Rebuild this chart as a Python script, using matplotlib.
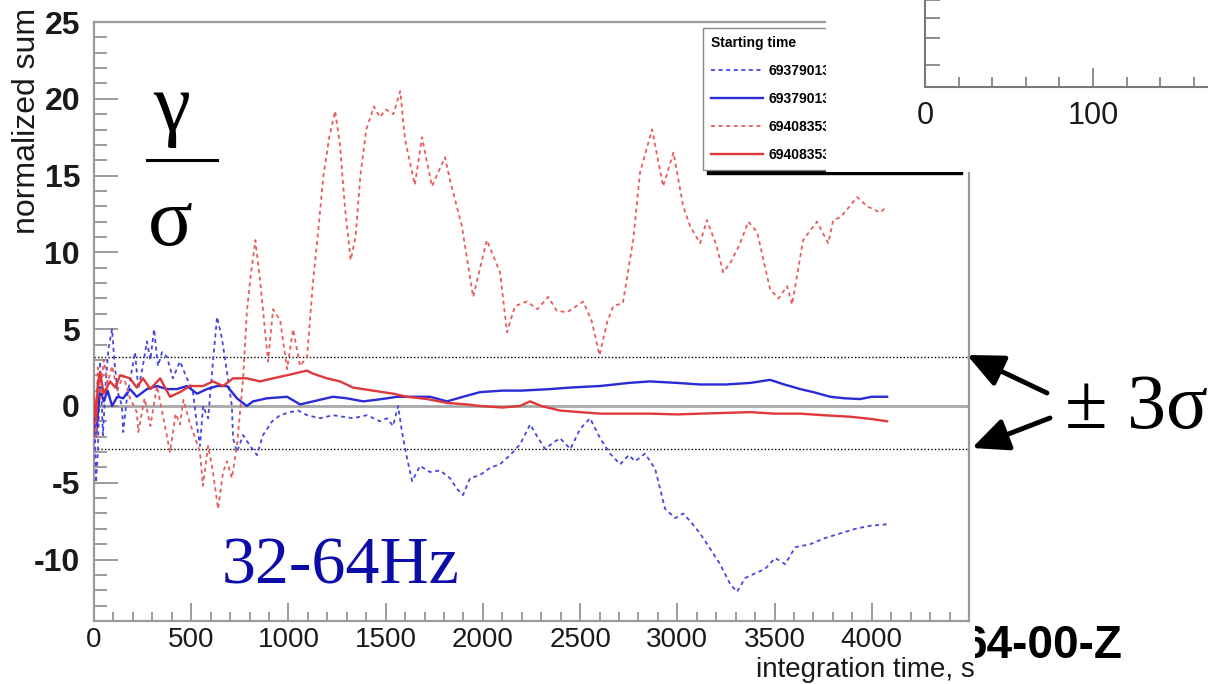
import numpy as np
import matplotlib
matplotlib.use("Agg")
import matplotlib.pyplot as plt
from matplotlib.patches import Rectangle
from matplotlib.lines import Line2D
from matplotlib.ticker import MultipleLocator
from matplotlib.transforms import Bbox

plt.rcParams['font.family'] = ['Liberation Sans', 'DejaVu Sans']
plt.rcParams['axes.unicode_minus'] = False

# ---- data: normalized sums vs integration time ----
t_red_dot = [0, 10, 20, 35, 50, 70, 93, 120, 150, 185, 220, 228, 260, 290, 324, 357, 391, 420,
             442, 460, 490, 510, 545, 560, 587, 612, 638, 664, 684, 709, 735, 767, 786, 803,
             830, 854, 895, 921, 957, 993, 1024, 1060, 1096, 1127, 1150, 1180, 1210, 1240,
             1265, 1290, 1320, 1345, 1370, 1400, 1440, 1470, 1500, 1540, 1575, 1600, 1650,
             1687, 1738, 1805, 1831, 1892, 1950, 2020, 2088, 2124, 2165, 2227, 2280, 2336,
             2380, 2433, 2516, 2560, 2600, 2640, 2670, 2720, 2773, 2808, 2870, 2927, 2980,
             3030, 3066, 3117, 3152, 3200, 3236, 3272, 3320, 3365, 3411, 3477, 3520, 3565,
             3590, 3647, 3718, 3776, 3802, 3840, 3873, 3925, 3976, 4043, 4079]
y_red_dot = [1.0, -2.0, 2.5, 0.5, 3.0, 1.5, 2.6, 1.0, 2.0, 0.5, -0.4, -1.7, 0.5, -1.3, 1.3, -0.8,
             -3.0, -0.5, -1.2, 0.4, -1.0, -1.7, -3.0, -5.2, -2.6, -4.3, -6.7, -4.3, -3.6, -4.7,
             -2.6, 1.8, 6.1, 8.2, 10.8, 8.2, 2.9, 6.3, 5.6, 2.4, 5.0, 2.6, 3.2, 8.2, 11.0, 15.0,
             17.5, 19.2, 17.0, 13.0, 9.5, 11.0, 15.0, 18.0, 19.5, 18.8, 19.3, 19.0, 20.5, 17.3,
             14.4, 17.5, 14.3, 16.2, 14.7, 11.7, 7.1, 10.8, 8.7, 4.8, 6.5, 6.8, 6.3, 7.1, 6.2,
             6.1, 6.8, 5.5, 3.3, 5.5, 6.5, 6.7, 10.8, 15.2, 18.0, 14.3, 16.5, 13.0, 11.7, 10.6,
             12.1, 10.5, 8.7, 9.3, 10.5, 12.0, 11.3, 7.6, 7.0, 7.8, 6.6, 10.8, 12.0, 10.6, 12.1,
             12.3, 12.8, 13.6, 13.0, 12.6, 13.0]

t_blue_dot = [0, 5, 10, 20, 31, 46, 60, 75, 93, 105, 120, 144, 150, 170, 190, 211, 228, 250,
              272, 290, 309, 329, 350, 375, 406, 442, 478, 509, 530, 545, 561, 587, 612, 633,
              658, 684, 709, 715, 735, 767, 803, 838, 869, 916, 957, 1008, 1050, 1096, 1163,
              1229, 1280, 1332, 1404, 1471, 1507, 1538, 1564, 1584, 1610, 1636, 1677, 1728,
              1780, 1831, 1867, 1898, 1934, 1985, 2040, 2088, 2140, 2191, 2243, 2280, 2320,
              2360, 2397, 2450, 2500, 2551, 2603, 2654, 2706, 2750, 2783, 2834, 2886, 2937,
              2989, 3030, 3066, 3117, 3169, 3220, 3272, 3307, 3349, 3400, 3452, 3503, 3555,
              3606, 3683, 3760, 3837, 3915, 3992, 4079]
y_blue_dot = [0.3, -1.7, -5.0, -3.0, 2.9, -1.9, 1.5, 3.8, 5.0, 2.9, 1.0, 0.0, -1.7, 0.6, 2.0,
              3.5, 1.1, 2.5, 4.2, 3.0, 5.0, 2.6, 3.5, 3.2, 1.8, 2.9, 1.8, 0.9, -1.3, -2.6, 0.0,
              -0.8, 2.9, 5.8, 4.4, 2.2, 0.0, -2.1, -3.0, -1.9, -2.6, -3.2, -1.9, -1.0, -0.6,
              -0.4, -0.3, -0.6, -0.8, -0.6, -0.7, -0.8, -0.6, -1.0, -0.8, -1.3, 0.0, -1.7,
              -3.4, -4.9, -3.9, -4.3, -4.2, -4.7, -5.4, -5.8, -4.7, -4.5, -4.0, -3.8, -3.2,
              -2.5, -1.2, -2.0, -2.8, -2.4, -2.1, -2.8, -1.5, -0.8, -2.1, -3.1, -3.8, -3.2,
              -3.6, -3.1, -4.1, -6.7, -7.3, -7.0, -7.5, -8.3, -9.3, -10.3, -11.6, -12.1, -11.2,
              -10.9, -10.6, -9.9, -10.3, -9.2, -9.0, -8.6, -8.3, -8.0, -7.8, -7.7]

t_blue_sol = [0, 10, 20, 31, 50, 70, 93, 120, 150, 185, 220, 272, 324, 375, 427, 478, 530,
              581, 633, 684, 735, 786, 818, 890, 993, 1060, 1127, 1229, 1300, 1384, 1450,
              1507, 1559, 1641, 1728, 1816, 1898, 1985, 2100, 2200, 2346, 2450, 2603, 2750,
              2860, 3000, 3117, 3250, 3374, 3477, 3550, 3632, 3700, 3786, 3860, 3940, 4000, 4079]
y_blue_sol = [0.1, -2.0, -0.5, 1.1, 0.3, 1.0, 0.0, 0.6, 0.5, 1.1, 0.6, 1.1, 1.3, 1.1, 1.1, 1.3,
              0.8, 1.1, 1.3, 1.3, 0.5, 0.0, 0.3, 0.5, 0.6, 0.1, 0.3, 0.6, 0.5, 0.3, 0.4, 0.5,
              0.6, 0.6, 0.6, 0.3, 0.6, 0.9, 1.0, 1.0, 1.1, 1.2, 1.3, 1.5, 1.6, 1.5, 1.4, 1.4,
              1.5, 1.7, 1.4, 1.1, 0.9, 0.6, 0.5, 0.45, 0.6, 0.6]

t_red_sol = [0, 10, 20, 31, 50, 82, 110, 134, 185, 220, 252, 290, 340, 391, 442, 494, 561, 612,
             664, 715, 786, 854, 921, 993, 1060, 1096, 1127, 1198, 1265, 1332, 1435, 1538,
             1610, 1713, 1816, 1919, 1985, 2100, 2191, 2243, 2300, 2397, 2500, 2603, 2700,
             2860, 3000, 3117, 3250, 3374, 3500, 3632, 3750, 3889, 4000, 4079]
y_red_sol = [0.6, -0.9, 1.5, 2.2, 0.8, 1.6, 1.2, 2.0, 1.8, 1.2, 1.8, 1.1, 1.8, 0.6, 0.9, 1.3,
             1.3, 1.6, 1.3, 1.8, 1.8, 1.6, 1.8, 2.0, 2.2, 2.3, 2.1, 1.8, 1.6, 1.2, 1.0, 0.8,
             0.6, 0.45, 0.2, 0.1, 0.0, -0.1, 0.0, 0.3, 0.0, -0.3, -0.4, -0.5, -0.5, -0.5,
             -0.55, -0.5, -0.45, -0.4, -0.5, -0.5, -0.6, -0.7, -0.85, -1.0]

legend_labels = ["693790130", "693790130", "694083530", "694083530"]
sigma_band = [3.2, -2.8]

x_ticks = [0, 500, 1000, 1500, 2000, 2500, 3000, 3500, 4000]
y_ticks = [-10, -5, 0, 5, 10, 15, 20, 25]
inset_xticks = [0, 100]
inset_yticks = [22, 49, 69, 87]

W, H = 1208, 684
fig = plt.figure(figsize=(W / 100, H / 100), dpi=100)
fig.patch.set_facecolor('white')

ax = fig.add_axes([94 / W, 1 - 621 / H, 875 / W, 599 / H])
ax.set_xlim(0, 4500)
ax.set_ylim(-14, 25)

frame = '#9a9a9a'
for s in ax.spines.values():
    s.set_color(frame)
    s.set_linewidth(1.6)

ax.axhline(0, color='#a8a8a8', lw=2.0, zorder=1)
for lvl in sigma_band:
    ax.axhline(lvl, color='black', lw=1.0, ls=(0, (1, 1.5)), zorder=1)

dot = (0, (2.2, 2.0))
l_bd, = ax.plot(t_blue_dot, y_blue_dot, color='#4646e0', lw=1.3, ls=dot, zorder=3)
l_bs, = ax.plot(t_blue_sol, y_blue_sol, color='#2a2ad6', lw=1.7, zorder=3)
l_rd, = ax.plot(t_red_dot, y_red_dot, color='#e85c5c', lw=1.3, ls=dot, zorder=3)
l_rs, = ax.plot(t_red_sol, y_red_sol, color='#e03838', lw=1.7, zorder=3)

ax.set_xticks(x_ticks, labels=[str(v) for v in x_ticks], fontsize=20)
ax.xaxis.set_minor_locator(MultipleLocator(100))
ax.set_yticks(y_ticks, labels=[str(v) for v in y_ticks], fontsize=23, fontweight='bold')
ax.yaxis.set_minor_locator(MultipleLocator(1))
ax.tick_params(axis='both', which='both', direction='in', color='#8a8a8a', width=1.2,
               labelcolor='#1a1a1a')
ax.tick_params(axis='x', which='major', length=13, pad=4)
ax.tick_params(axis='x', which='minor', length=6.5)
ax.tick_params(axis='y', which='major', length=17, pad=10)
ax.tick_params(axis='y', which='minor', length=9)
ax.tick_params(top=False, right=False, which='both')

fig.text(27 / W, 1 - 8 / H, 'normalized sum', rotation=90, ha='center', va='top',
         fontsize=23, color='#1a1a1a')
fig.text(975 / W, 7 / H, 'integration time, s', ha='right', va='baseline',
         fontsize=20, color='#1a1a1a')

leg = ax.legend([l_bd, l_bs, l_rd, l_rs], legend_labels, title='Starting time',
                loc='upper left', bbox_to_anchor=(703 / W, 1 - 28 / H, 255 / W, 0),
                bbox_transform=fig.transFigure, mode='expand', alignment='left',
                prop={'size': 10, 'weight': 'bold'},
                title_fontproperties={'size': 10, 'weight': 'bold'},
                frameon=True, fancybox=False, edgecolor='#888888', framealpha=1,
                shadow={'ox': 3, 'oy': -3, 'color': 'black', 'alpha': 1},
                handlelength=3.7, handletextpad=0.45, labelspacing=1.0,
                borderpad=0.6, borderaxespad=0)
leg.get_frame().set_linewidth(1.0)

# white panel from the neighbouring plot with its axis corner
fig.add_artist(Rectangle((826 / W, 1 - 172 / H), 382 / W, 172 / H, transform=fig.transFigure,
                         facecolor='white', edgecolor='none', zorder=5))
ax2 = fig.add_axes([925 / W, 1 - 87 / H, 283 / W, 87 / H])
ax2.set_zorder(6)
ax2.patch.set_alpha(0)
ax2.set_xlim(0, 168.5)
ax2.set_ylim(0, 87)
for side in ('top', 'right'):
    ax2.spines[side].set_visible(False)
for side in ('left', 'bottom'):
    ax2.spines[side].set_color('#7a7a7a')
    ax2.spines[side].set_linewidth(1.5)
ax2.set_xticks(inset_xticks, labels=[str(v) for v in inset_xticks], fontsize=22)
ax2.xaxis.set_minor_locator(MultipleLocator(20))
ax2.set_yticks(inset_yticks, labels=[])
ax2.tick_params(axis='both', which='both', direction='in', color='#7a7a7a', width=1.2,
                labelcolor='#1a1a1a')
ax2.tick_params(axis='x', which='major', length=14, pad=10)
ax2.tick_params(axis='x', which='minor', length=7)
ax2.tick_params(axis='y', which='major', length=11)

# hand-drawn style annotations
serif = ['Liberation Serif', 'DejaVu Serif']
fig.text(172 / W, 1 - 130 / H, 'γ', ha='center', va='baseline', fontsize=60, family=serif)
fig.add_artist(Line2D([147 / W, 217 / W], [1 - 160 / H] * 2, transform=fig.transFigure,
                      color='black', lw=2.2))
fig.text(170 / W, 1 - 245 / H, 'σ', ha='center', va='baseline', fontsize=60, family=serif)
fig.text(1065 / W, 1 - 428 / H, '± 3σ', ha='left', va='baseline', fontsize=56, family=serif)
fig.text(222 / W, 1 - 583 / H, '32-64Hz', ha='left', va='baseline', fontsize=49,
         family=serif, color='#0c0ca8')

tag = fig.text(961 / W, 1 - 658 / H, '64-00-Z', ha='left', va='baseline', fontsize=33,
               fontweight='bold')
tag.set_clip_box(Bbox.from_extents(975, 0, W, H))
tag.set_clip_on(True)

arrow = dict(arrowstyle='-|>,head_length=1.1,head_width=0.5', lw=3.5, color='black',
             shrinkA=0, shrinkB=0, mutation_scale=20)
ax.annotate('', xy=(967, H - 355), xytext=(1047, H - 393), xycoords='figure pixels',
            textcoords='figure pixels', arrowprops=arrow, annotation_clip=False)
ax.annotate('', xy=(972, H - 448), xytext=(1050, H - 418), xycoords='figure pixels',
            textcoords='figure pixels', arrowprops=arrow, annotation_clip=False)

fig.savefig('out.png', dpi=100, facecolor='white')
